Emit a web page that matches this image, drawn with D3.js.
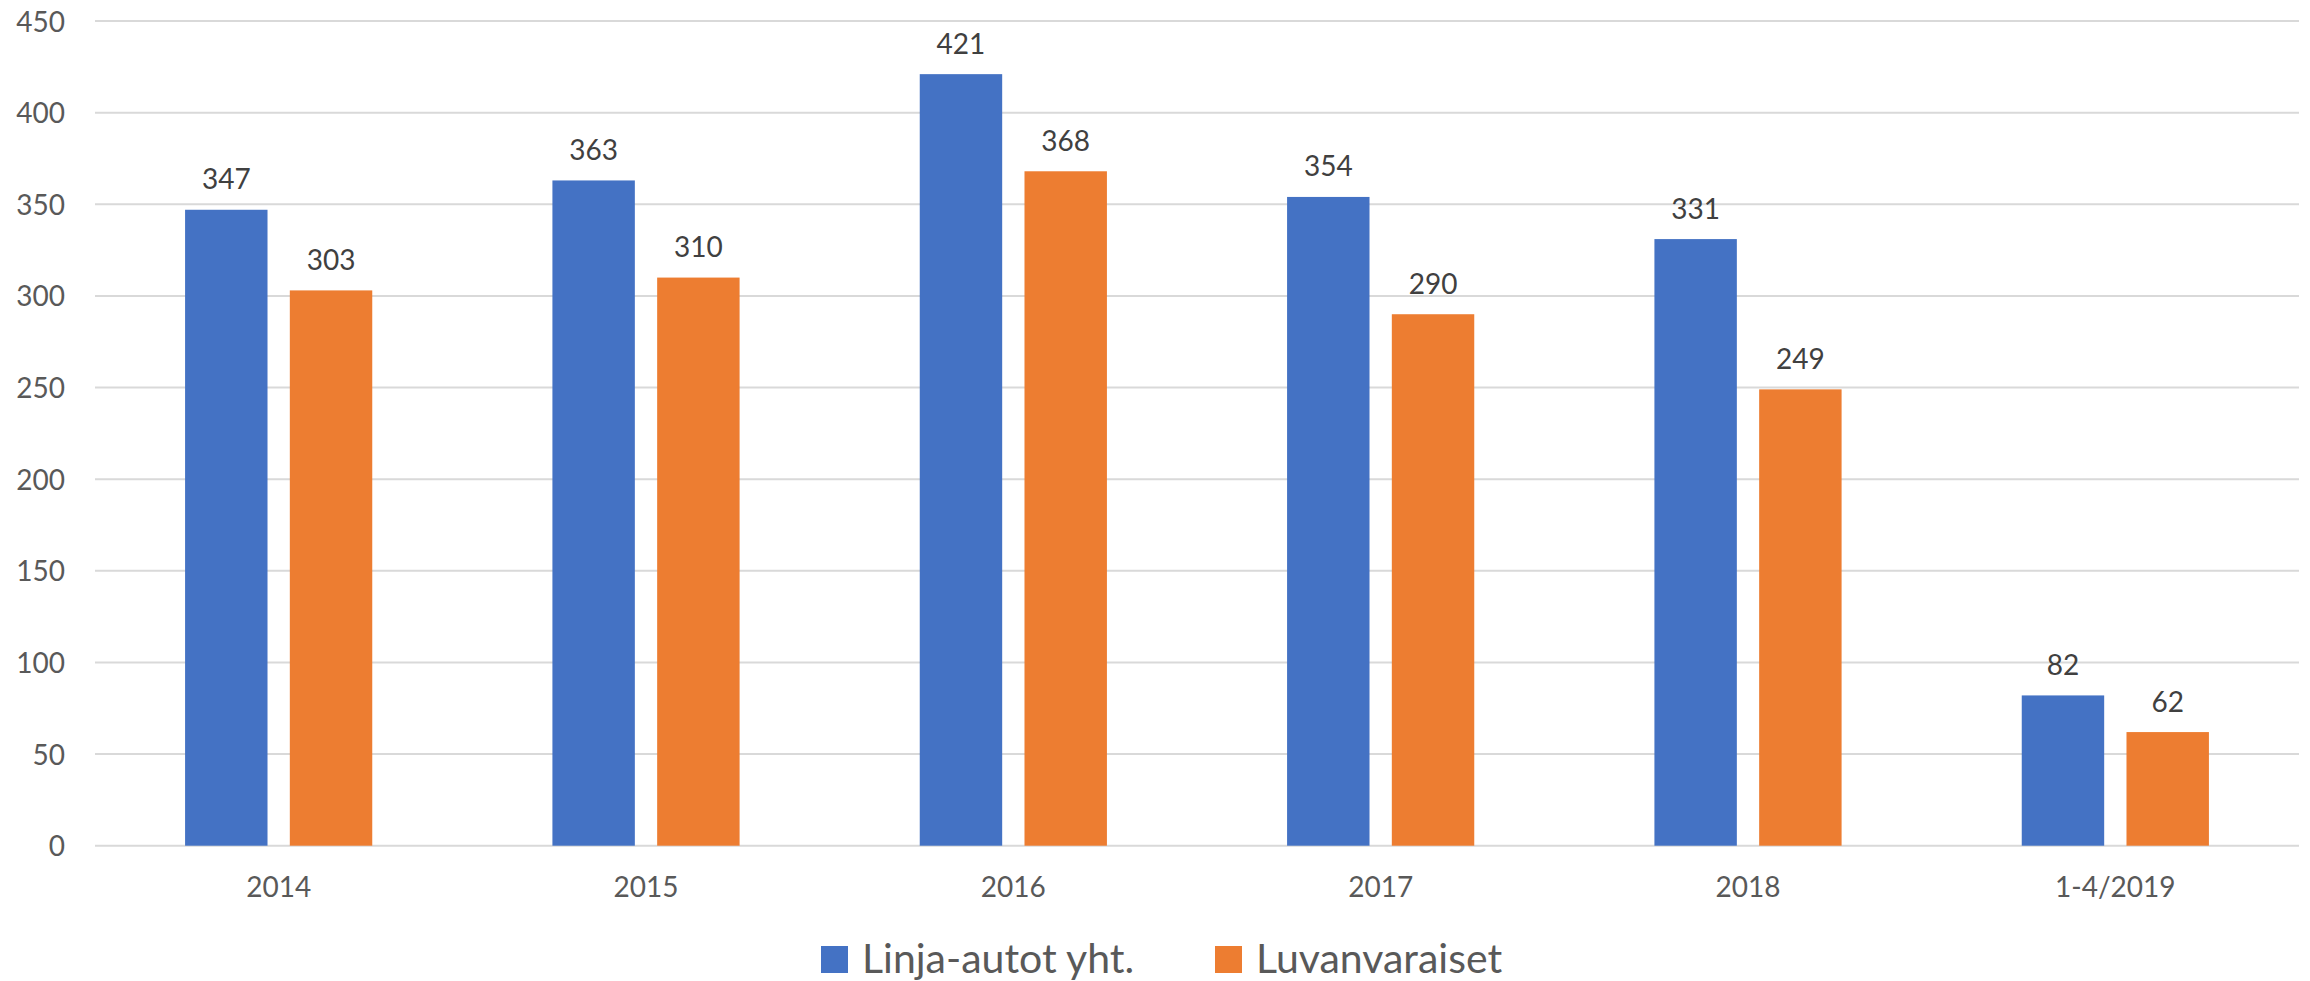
<!DOCTYPE html>
<html>
<head>
<meta charset="utf-8">
<script src="https://cdn.jsdelivr.net/npm/d3@7"></script>
<style>
  body { margin: 0; background: #fff; }
  text { font-family: Lato, "Open Sans", sans-serif; }
</style>
</head>
<body>
<svg id="chart" width="2310" height="981"></svg>
<script>
// data
var categories = ["2014", "2015", "2016", "2017", "2018", "1-4/2019"];
var seriesNames = ["Linja-autot yht.", "Luvanvaraiset"];
var totals = [347, 363, 421, 354, 331, 82];      // Linja-autot yht.
var licensed = [303, 310, 368, 290, 249, 62];    // Luvanvaraiset
var yTicks = [0, 50, 100, 150, 200, 250, 300, 350, 400, 450];
var colors = ["#4472C4", "#ED7D31"];

var svg = d3.select("#chart"),
    width = +svg.attr("width"),
    height = +svg.attr("height");

// plot box (pixels)
var plotLeft = 95, plotRight = 2299, plotTop = 21, plotBottom = 845.7;

var rows = categories.map(function(c, i) {
    return { cat: c, values: [totals[i], licensed[i]] };
});

var x0 = d3.scaleBand()
    .domain(categories)
    .range([plotLeft, plotRight]);

var x1 = d3.scaleBand()
    .domain(seriesNames)
    .range([0, x0.bandwidth()])
    .paddingInner(0.213)
    .paddingOuter(0.86);

var y = d3.scaleLinear()
    .domain([0, 450])
    .range([plotBottom, plotTop]);

// gridlines
svg.append("g")
    .selectAll("line")
    .data(yTicks)
    .enter().append("line")
    .attr("x1", plotLeft)
    .attr("x2", plotRight)
    .attr("y1", function(d) { return y(d); })
    .attr("y2", function(d) { return y(d); })
    .attr("stroke", "#d9d9d9")
    .attr("stroke-width", 2);

// y axis labels
var yAxis = d3.axisLeft(y).tickValues(yTicks).tickSize(0).tickPadding(0);
var gy = svg.append("g")
    .attr("transform", "translate(65,0)")
    .call(yAxis);
gy.select(".domain").remove();
gy.selectAll("text")
    .attr("fill", "#595959")
    .style("font-size", "28px")
    .attr("dy", "0.36em");

// x axis labels
var xAxis = d3.axisBottom(x0).tickSize(0).tickPadding(0);
var gx = svg.append("g")
    .attr("transform", "translate(0," + plotBottom + ")")
    .call(xAxis);
gx.select(".domain").remove();
gx.selectAll("text")
    .attr("fill", "#595959")
    .style("font-size", "28px")
    .attr("dy", 0)
    .attr("y", 51.5);

// bars
var group = svg.selectAll(".grp")
    .data(rows)
    .enter().append("g")
    .attr("class", "grp")
    .attr("transform", function(d) { return "translate(" + x0(d.cat) + ",0)"; });

var cells = group.selectAll(".cell")
    .data(function(d) {
        return d.values.map(function(v, i) { return { name: seriesNames[i], value: v, idx: i }; });
    })
    .enter();

cells.append("rect")
    .attr("x", function(d) { return x1(d.name); })
    .attr("y", function(d) { return y(d.value); })
    .attr("width", x1.bandwidth())
    .attr("height", function(d) { return plotBottom - y(d.value); })
    .attr("fill", function(d) { return colors[d.idx]; });

cells.append("text")
    .attr("x", function(d) { return x1(d.name) + x1.bandwidth() / 2; })
    .attr("y", function(d) { return y(d.value) - 20.5; })
    .attr("text-anchor", "middle")
    .attr("fill", "#404040")
    .style("font-size", "28px")
    .text(function(d) { return d.value; });

// legend
var legend = svg.append("g");
var lx = 821;
seriesNames.forEach(function(name, i) {
    var item = legend.append("g").attr("transform", "translate(" + lx + ",0)");
    item.append("rect")
        .attr("x", 0)
        .attr("y", 946)
        .attr("width", 27)
        .attr("height", 27)
        .attr("fill", colors[i]);
    var t = item.append("text")
        .attr("x", 41)
        .attr("y", 972.7)
        .attr("fill", "#595959")
        .style("font-size", "41px")
        .text(name);
    lx = 1215;
});
</script>
</body>
</html>
